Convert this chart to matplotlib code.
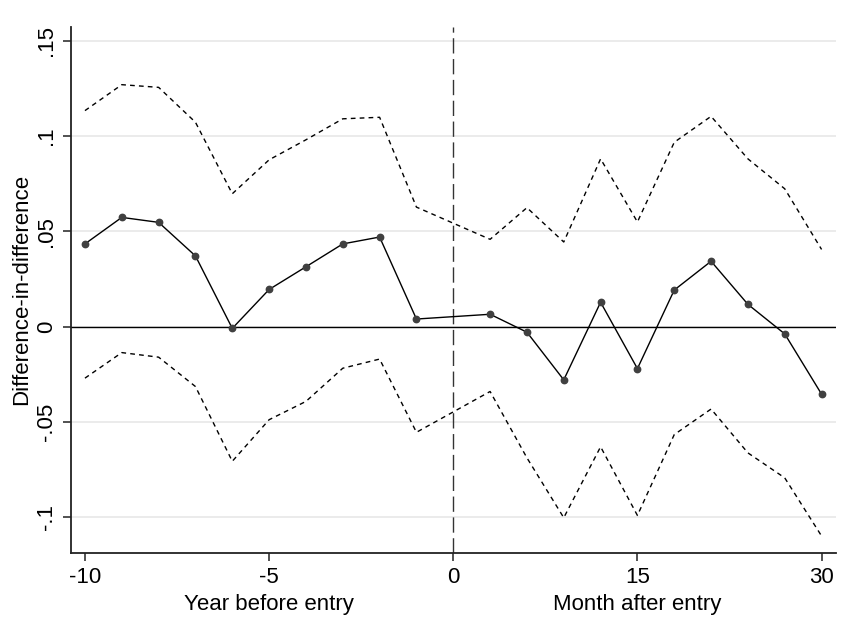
import numpy as np
import matplotlib.pyplot as plt

plt.rcParams['font.family'] = ['Liberation Sans', 'DejaVu Sans']

# Pre-entry: years before entry
years = [-10, -9, -8, -7, -6, -5, -4, -3, -2, -1]
coef_pre = [0.0434, 0.0573, 0.0547, 0.0371, -0.0009, 0.0195, 0.0314, 0.0434, 0.0470, 0.0040]
upper_pre = [0.1133, 0.1269, 0.1255, 0.1072, 0.0697, 0.0875, 0.0980, 0.1090, 0.1098, 0.0627]
lower_pre = [-0.0270, -0.0136, -0.0160, -0.0314, -0.0706, -0.0488, -0.0392, -0.0218, -0.0170, -0.0554]

# Post-entry: months after entry
months = [3, 6, 9, 12, 15, 18, 21, 24, 27, 30]
coef_post = [0.0065, -0.0029, -0.0279, 0.0128, -0.0220, 0.0192, 0.0343, 0.0117, -0.0038, -0.0354]
upper_post = [0.0458, 0.0624, 0.0444, 0.0880, 0.0549, 0.0967, 0.1103, 0.0880, 0.0723, 0.0405]
lower_post = [-0.0340, -0.0688, -0.1002, -0.0630, -0.0990, -0.0566, -0.0432, -0.0662, -0.0793, -0.1098]

xtick_labels = ['-10', '-5', '0', '15', '30']
ytick_vals = [-0.1, -0.05, 0, 0.05, 0.1, 0.15]
ytick_labels = ['-.1', '-.05', '0', '.05', '.1', '.15']

# one year on the left half takes the same width as three months on the right
x = np.array(years + [m / 3 for m in months])
coef = np.array(coef_pre + coef_post)
upper = np.array(upper_pre + upper_post)
lower = np.array(lower_pre + lower_post)

fig = plt.figure(figsize=(8.53, 6.36), dpi=100)
ax = fig.add_axes([0.0832, 0.1305, 0.8968, 0.8275])

for v in ytick_vals:
    ax.axhline(v, color='#e6e6e6', lw=1.1, zorder=0)
ax.axhline(0, color='black', lw=1.0, zorder=1)
ax.axvline(0, color='#333333', lw=1.0, dashes=(11, 4), zorder=1)

ax.plot(x, upper, color='black', lw=1.0, dashes=(3.4, 3), zorder=2)
ax.plot(x, lower, color='black', lw=1.0, dashes=(3.4, 3), zorder=2)
ax.plot(x, coef, color='black', lw=1.0, marker='o', markersize=4.6,
        markerfacecolor='#404040', markeredgecolor='#404040', zorder=3)

ax.set_xlim(-10.38, 10.39)
ax.set_ylim(-0.1187, 0.1573)
ax.set_xticks([-10, -5, 0, 5, 10])
ax.set_xticklabels(xtick_labels)
ax.set_yticks(ytick_vals)
ax.set_yticklabels(ytick_labels, rotation=90, va='center')

ax.spines['top'].set_visible(False)
ax.spines['right'].set_visible(False)
for s in ['left', 'bottom']:
    ax.spines[s].set_linewidth(1.3)
    ax.spines[s].set_color('#222222')
ax.tick_params(axis='both', length=6, width=1.1, color='#222222', labelsize=16, pad=4)

# axis titles for the two halves, sitting just under the tick labels
ax.text(-5, -0.1485, 'Year before entry', ha='center', va='baseline', fontsize=16,
        transform=ax.transData, clip_on=False)
ax.text(5, -0.1485, 'Month after entry', ha='center', va='baseline', fontsize=16,
        transform=ax.transData, clip_on=False)
ax.set_ylabel('Difference-in-difference', fontsize=16, labelpad=3)

fig.savefig('out.png', dpi=100)
